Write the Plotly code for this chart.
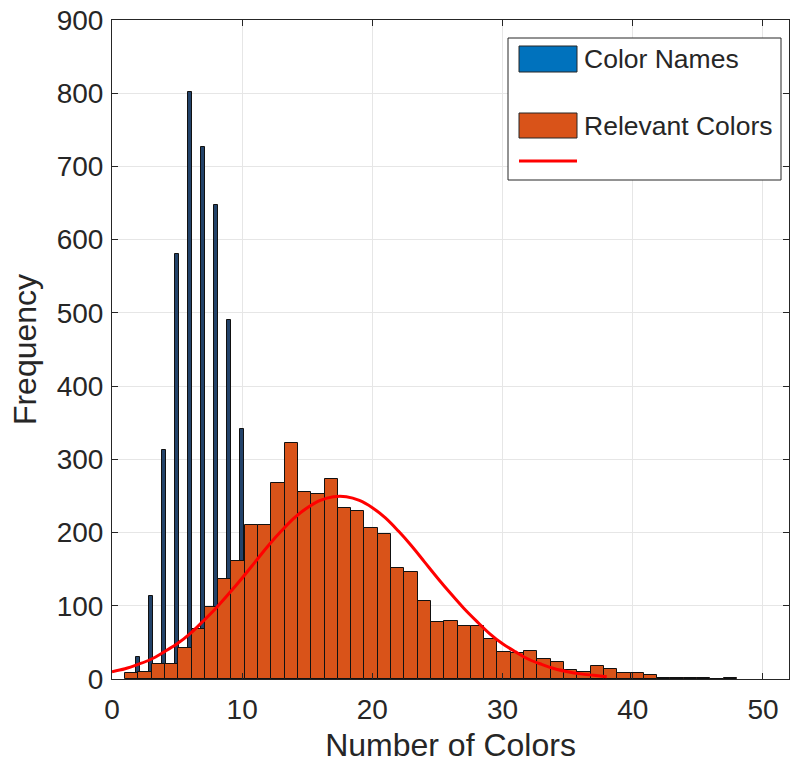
import plotly.graph_objects as go

# ---- data ----
name_x = [2, 3, 4, 5, 6, 7, 8, 9, 10]
name_counts = [30, 113, 313, 580, 802, 727, 648, 490, 342]

relevant_bin_start = 1.0
relevant_bin_width = 47 / 46
relevant_counts = [8, 10, 21, 21, 43, 68, 99, 136, 161,
                   211, 211, 268, 322, 255, 252, 273, 234, 230, 206,
                   198, 152, 146, 106, 78, 79, 72,
                   73, 54, 37, 36, 38, 27, 23,
                   12, 10, 18, 13, 8, 8, 5,
                   1, 1, 1, 1, 0, 1]

fit_x = list(range(0, 39))
fit_y = [10, 14, 20, 27, 37, 48, 62, 79, 97, 117,
         138, 160, 182, 202, 220, 234, 244, 249, 249, 244,
         234, 220, 202, 182, 160, 138, 117, 97, 79, 62,
         48, 37, 27, 20, 14, 10, 7, 5, 3]

x_ticks = [0, 10, 20, 30, 40, 50]
y_ticks = [0, 100, 200, 300, 400, 500, 600, 700, 800, 900]

legend_labels = ["Color Names", "Relevant Colors", ""]

# ---- figure ----
BLUE = "#0072BD"
BLUE_BAR = "#23436a"
ORANGE = "#D95319"
TXT = "#262626"
FONT = "Liberation Sans, Arial, Helvetica, sans-serif"

relevant_x = [relevant_bin_start + relevant_bin_width * (i + 0.5) for i in range(len(relevant_counts))]

fig = go.Figure()
fig.add_trace(go.Bar(x=name_x, y=name_counts, width=0.3, name=legend_labels[0],
                     marker=dict(color=BLUE_BAR, line=dict(color="#111111", width=1)),
                     showlegend=False))
fig.add_trace(go.Bar(x=relevant_x, y=relevant_counts, width=relevant_bin_width,
                     name=legend_labels[1],
                     marker=dict(color=ORANGE, line=dict(color="#111111", width=1)),
                     showlegend=False))
fig.add_trace(go.Scatter(x=fit_x, y=fit_y, mode="lines", name="fit",
                         line=dict(color="#FF0000", width=3, shape="spline"),
                         showlegend=False))

W, H = 791, 763
L, R, T, B = 112, 2, 20, 84
pw, ph = W - L - R, H - T - B


def px(x):
    return (x - L) / pw


def py(y):
    return (H - B - y) / ph


shapes = []
annotations = []
# legend box
shapes.append(dict(type="rect", xref="paper", yref="paper",
                   x0=px(508), x1=px(781), y0=py(180), y1=py(38),
                   line=dict(color=TXT, width=1), fillcolor="white", layer="above"))
# patches
shapes.append(dict(type="rect", xref="paper", yref="paper",
                   x0=px(519), x1=px(577), y0=py(72), y1=py(46),
                   line=dict(color=TXT, width=1), fillcolor=BLUE, layer="above"))
shapes.append(dict(type="rect", xref="paper", yref="paper",
                   x0=px(519), x1=px(577), y0=py(138), y1=py(113),
                   line=dict(color=TXT, width=1), fillcolor=ORANGE, layer="above"))
shapes.append(dict(type="line", xref="paper", yref="paper",
                   x0=px(519), x1=px(577), y0=py(161), y1=py(161),
                   line=dict(color="#FF0000", width=3), layer="above"))
annotations.append(dict(xref="paper", yref="paper", x=px(582), y=py(59),
                        xanchor="left", yanchor="middle", showarrow=False,
                        text=legend_labels[0], font=dict(size=26.5, color=TXT, family=FONT)))
annotations.append(dict(xref="paper", yref="paper", x=px(582), y=py(126),
                        xanchor="left", yanchor="middle", showarrow=False,
                        text=legend_labels[1], font=dict(size=26.5, color=TXT, family=FONT)))

axis_common = dict(showgrid=True, gridcolor="#e6e6e6", gridwidth=1,
                   showline=True, linecolor=TXT, linewidth=1, mirror="ticks",
                   ticks="inside", ticklen=6, tickcolor=TXT, zeroline=False,
                   tickfont=dict(size=28, color=TXT, family=FONT),
                   layer="above traces")

fig.update_layout(
    width=W, height=H,
    margin=dict(l=L, r=R, t=T, b=B, pad=0),
    paper_bgcolor="white", plot_bgcolor="white",
    barmode="overlay", bargap=0,
    font=dict(family=FONT, color=TXT),
    shapes=shapes, annotations=annotations,
    xaxis=dict(range=[0, 52], tickvals=x_ticks, ticklabelstandoff=5,
               title=dict(text="Number of Colors", font=dict(size=32, color=TXT, family=FONT), standoff=12),
               **axis_common),
    yaxis=dict(range=[0, 900], tickvals=y_ticks, ticklabelstandoff=2,
               title=dict(text="Frequency", font=dict(size=32, color=TXT, family=FONT), standoff=10),
               **axis_common),
)

fig.write_html("out.html")
